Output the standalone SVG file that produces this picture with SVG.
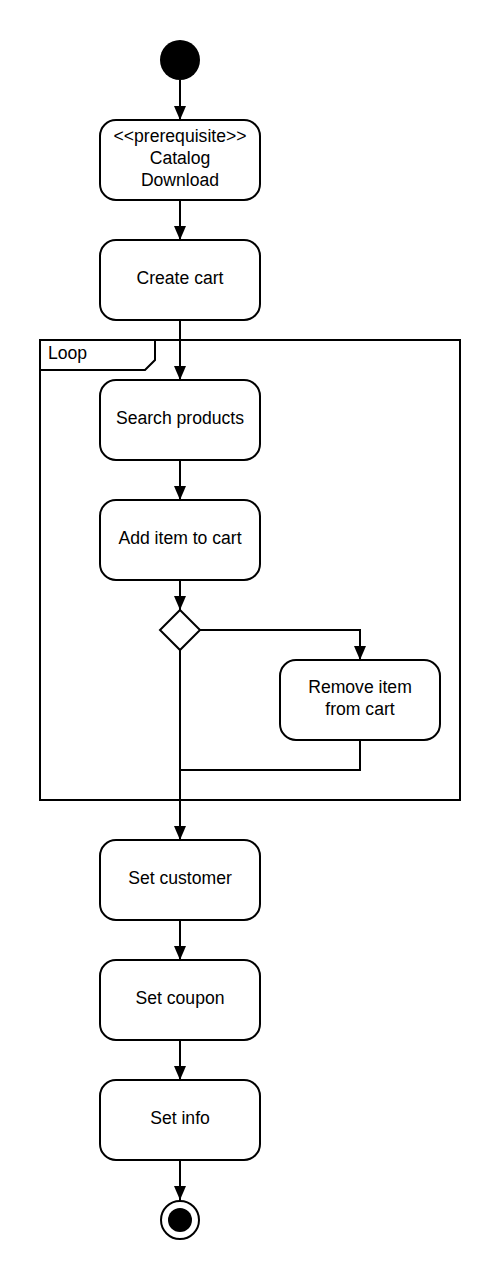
<svg xmlns="http://www.w3.org/2000/svg" width="500" height="1280" viewBox="0 0 500 1280">
<style>
.box{fill:#fff;stroke:#000;stroke-width:2}
.ln{fill:none;stroke:#000;stroke-width:2}
.t{font-family:"Liberation Sans",Arial,sans-serif;font-size:17.6px;fill:#000;text-anchor:middle}
.arr{fill:none;stroke:#000;stroke-width:2;marker-end:url(#ah)}
</style>
<defs>
<marker id="ah" markerUnits="userSpaceOnUse" markerWidth="14" markerHeight="12" refX="14" refY="6" orient="auto">
<path d="M0,0 L14,6 L0,12 z" fill="#000"/>
</marker>
</defs>
<rect width="500" height="1280" fill="#fff"/>
<g id="loop">
<rect class="ln" x="40" y="340" width="420" height="460"/>
<path class="ln" d="M40,370 L145,370 L155,360 L155,340"/>
<text class="t" x="48" y="359" style="text-anchor:start">Loop</text>
</g>
<g id="connectors">
<line class="arr" x1="180" y1="80" x2="180" y2="120"/>
<line class="arr" x1="180" y1="200" x2="180" y2="240"/>
<line class="arr" x1="180" y1="320" x2="180" y2="380"/>
<line class="arr" x1="180" y1="460" x2="180" y2="500"/>
<line class="arr" x1="180" y1="580" x2="180" y2="610"/>
<polyline class="arr" points="200,630 360,630 360,660"/>
<polyline class="ln" points="360,740 360,770 180,770"/>
<line class="arr" x1="180" y1="650" x2="180" y2="840"/>
<line class="arr" x1="180" y1="920" x2="180" y2="960"/>
<line class="arr" x1="180" y1="1040" x2="180" y2="1080"/>
<line class="arr" x1="180" y1="1160" x2="180" y2="1200"/>
</g>
<g id="start"><circle cx="180" cy="60" r="20" fill="#000"/></g>
<g id="catalog">
<rect class="box" x="100" y="120" width="160" height="80" rx="16"/>
<text class="t" x="180" y="142">&lt;&lt;prerequisite&gt;&gt;</text>
<text class="t" x="180" y="164">Catalog</text>
<text class="t" x="180" y="186">Download</text>
</g>
<g id="createcart">
<rect class="box" x="100" y="240" width="160" height="80" rx="16"/>
<text class="t" x="180" y="284">Create cart</text>
</g>
<g id="search">
<rect class="box" x="100" y="380" width="160" height="80" rx="16"/>
<text class="t" x="180" y="424">Search products</text>
</g>
<g id="additem">
<rect class="box" x="100" y="500" width="160" height="80" rx="16"/>
<text class="t" x="180" y="544">Add item to cart</text>
</g>
<g id="decision"><polygon class="box" points="180,610 200,630 180,650 160,630"/></g>
<g id="remove">
<rect class="box" x="280" y="660" width="160" height="80" rx="16"/>
<text class="t" x="360" y="693">Remove item</text>
<text class="t" x="360" y="715">from cart</text>
</g>
<g id="setcustomer">
<rect class="box" x="100" y="840" width="160" height="80" rx="16"/>
<text class="t" x="180" y="884">Set customer</text>
</g>
<g id="setcoupon">
<rect class="box" x="100" y="960" width="160" height="80" rx="16"/>
<text class="t" x="180" y="1004">Set coupon</text>
</g>
<g id="setinfo">
<rect class="box" x="100" y="1080" width="160" height="80" rx="16"/>
<text class="t" x="180" y="1124">Set info</text>
</g>
<g id="end">
<circle cx="180" cy="1220" r="19" fill="#fff" stroke="#000" stroke-width="2"/>
<circle cx="180" cy="1220" r="12" fill="#000"/>
</g>
</svg>
